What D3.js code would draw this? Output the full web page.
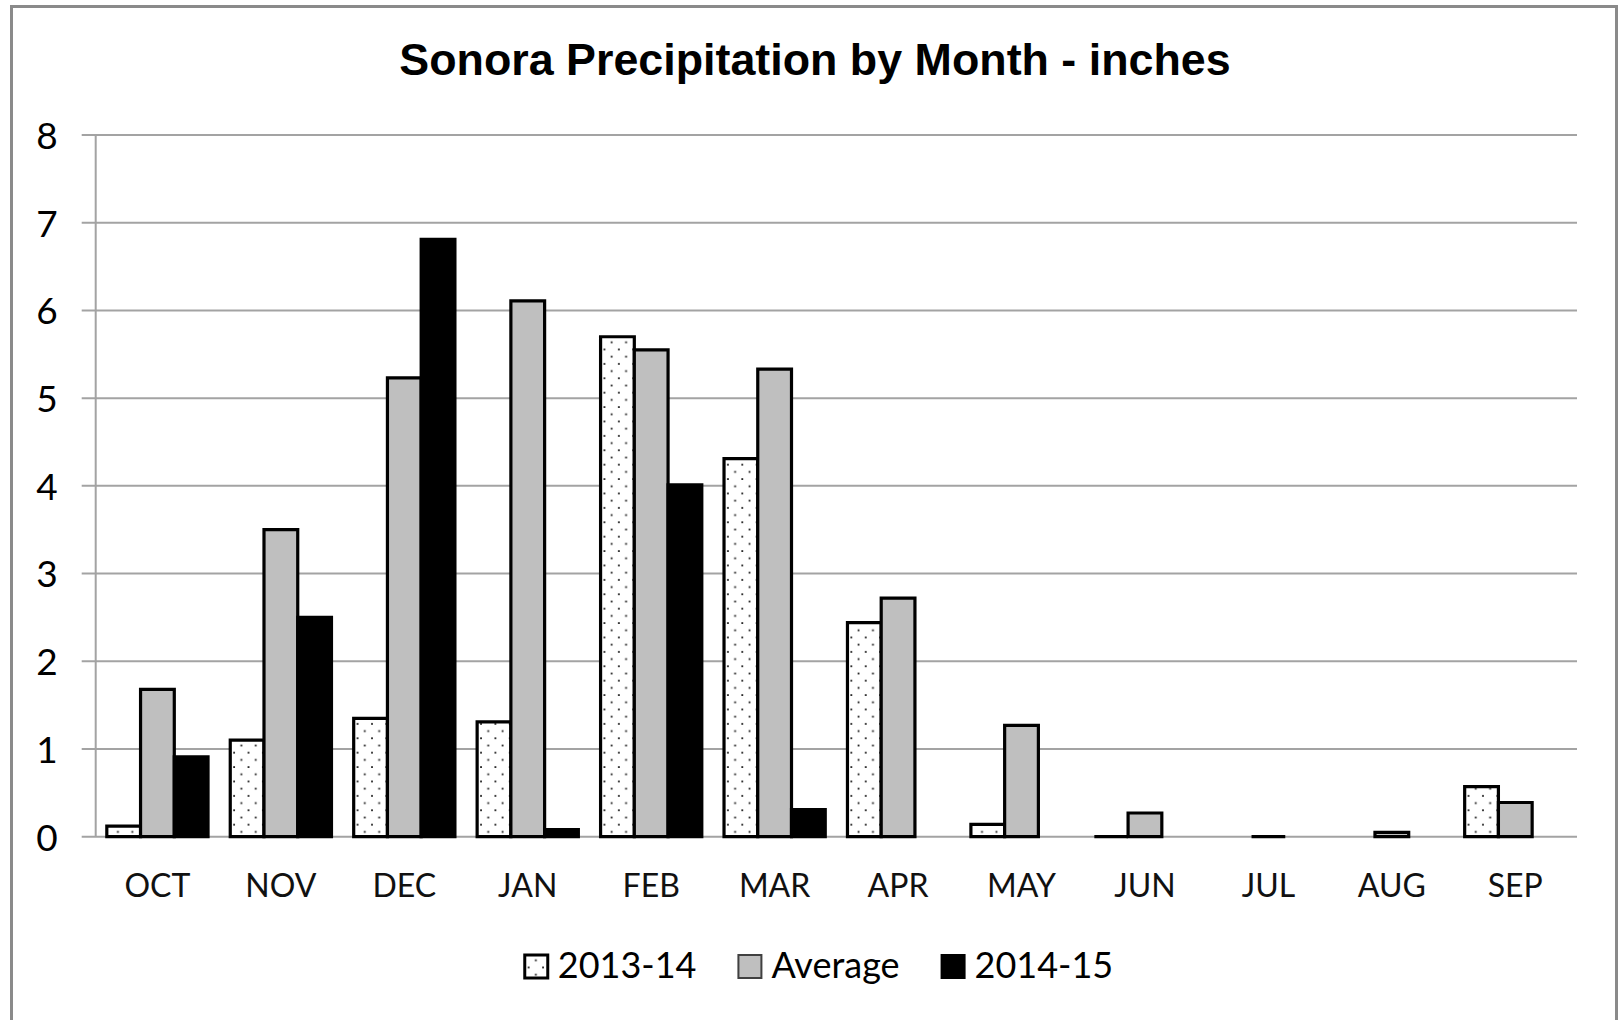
<!DOCTYPE html>
<html>
<head>
<meta charset="utf-8">
<title>Sonora Precipitation by Month</title>
<style>
    html, body { margin: 0; padding: 0; background: white; }
    svg { display: block; }
    .title { font: bold 44.8px "Liberation Sans", Arial, sans-serif; fill: black; }
    .ylab text { font: 37px Lato, "Open Sans", sans-serif; fill: black; }
    .xlab text { font: 32px Lato, "Open Sans", sans-serif; fill: #111; }
    .legend text { font: 36px Lato, "Open Sans", sans-serif; fill: black; }
</style>
<script src="https://cdn.jsdelivr.net/npm/d3@7"></script>
</head>
<body>
<div id="chart"></div>
<script>
    var months = ['OCT', 'NOV', 'DEC', 'JAN', 'FEB', 'MAR', 'APR', 'MAY', 'JUN', 'JUL', 'AUG', 'SEP'];
    var seriesNames = ['2013-14', 'Average', '2014-15'];
    var season1314 = [0.12, 1.10, 1.35, 1.31, 5.70, 4.31, 2.44, 0.14, 0, null, null, 0.57];
    var average    = [1.68, 3.50, 5.23, 6.11, 5.55, 5.33, 2.72, 1.27, 0.27, 0, 0.05, 0.39];
    var season1415 = [0.91, 2.50, 6.81, 0.08, 4.01, 0.31, null, null, null, null, null, null];
    var yTicks = [0, 1, 2, 3, 4, 5, 6, 7, 8];

    var width = 1623, height = 1020;
    var plotLeft = 95.7, plotRight = 1577, plotTop = 135, plotBottom = 836.7;

    var svg = d3.select('#chart')
            .append('svg')
            .attr('width', width)
            .attr('height', height);

    // dotted fill like the excel 5% pattern
    var pat = svg.append('defs').append('pattern')
            .attr('id', 'dots')
            .attr('patternUnits', 'userSpaceOnUse')
            .attr('width', 14.4)
            .attr('height', 14.4);
    pat.append('rect').attr('width', 14.4).attr('height', 14.4).attr('fill', 'white');
    pat.append('rect').attr('x', 3).attr('y', 3).attr('width', 1.8).attr('height', 1.8).attr('fill', '#222');
    pat.append('rect').attr('x', 10.2).attr('y', 10.2).attr('width', 1.8).attr('height', 1.8).attr('fill', '#222');

    var fills = {'2013-14': 'url(#dots)', 'Average': '#bfbfbf', '2014-15': 'black'};

    // outer frame
    svg.append('rect')
            .attr('x', 11.5)
            .attr('y', 6.5)
            .attr('width', 1605)
            .attr('height', 1100)
            .attr('fill', 'none')
            .attr('stroke', '#8a8a8a')
            .attr('stroke-width', 3);

    svg.append('text')
            .attr('class', 'title')
            .attr('x', 815)
            .attr('y', 75)
            .attr('text-anchor', 'middle')
            .text('Sonora Precipitation by Month - inches');

    var x0 = d3.scaleBand()
            .domain(months)
            .range([plotLeft, plotRight])
            .paddingInner(0.18)
            .paddingOuter(0.09);

    var x1 = d3.scaleBand()
            .domain(seriesNames)
            .range([0, x0.bandwidth()]);

    var y = d3.scaleLinear()
            .domain([0, 8])
            .range([plotBottom, plotTop]);

    // gridlines, with the little tick stubs left of the axis
    svg.append('g').selectAll('line')
            .data(yTicks)
        .enter().append('line')
            .attr('x1', plotLeft - 14)
            .attr('x2', plotRight)
            .attr('y1', function(d) { return y(d); })
            .attr('y2', function(d) { return y(d); })
            .attr('stroke', '#a3a3a3')
            .attr('stroke-width', 2);

    svg.append('line')
            .attr('x1', plotLeft).attr('x2', plotLeft)
            .attr('y1', y(8)).attr('y2', y(0))
            .attr('stroke', '#a3a3a3')
            .attr('stroke-width', 2);

    var yAxis = svg.append('g')
            .attr('class', 'ylab')
            .attr('transform', 'translate(' + (plotLeft - 38) + ',0)')
            .call(d3.axisLeft(y).tickValues(yTicks).tickSize(0).tickPadding(0).tickFormat(d3.format('d')));
    yAxis.select('.domain').remove();
    yAxis.selectAll('text').attr('dy', '0.36em');

    var xAxis = svg.append('g')
            .attr('class', 'xlab')
            .attr('transform', 'translate(0,' + plotBottom + ')')
            .call(d3.axisBottom(x0).tickSize(0).tickPadding(0));
    xAxis.select('.domain').remove();
    xAxis.selectAll('text').attr('dy', 0).attr('y', 60);

    // bars
    var rows = months.map(function(m, i) {
        return {month: m, values: [
            {key: '2013-14', v: season1314[i]},
            {key: 'Average', v: average[i]},
            {key: '2014-15', v: season1415[i]}
        ]};
    });

    function barPath(d) {
        var xa = x1(d.key), xb = xa + x1.bandwidth();
        var p = d3.path();
        p.moveTo(xa, y(0));
        p.lineTo(xa, y(d.v));
        p.lineTo(xb, y(d.v));
        p.lineTo(xb, y(0));
        p.closePath();
        return p.toString();
    }

    svg.append('g').selectAll('g')
            .data(rows)
        .enter().append('g')
            .attr('transform', function(d) { return 'translate(' + x0(d.month) + ',0)'; })
        .selectAll('path')
            .data(function(d) { return d.values.filter(function(e) { return e.v !== null; }); })
        .enter().append('path')
            .attr('d', barPath)
            .attr('fill', function(d) { return fills[d.key]; })
            .attr('stroke', 'black')
            .attr('stroke-width', 3.2)
            .attr('stroke-linejoin', 'miter');

    // legend
    var legend = svg.append('g').attr('class', 'legend');
    var cursor = 0, box = 23;
    seriesNames.forEach(function(name, i) {
        var item = legend.append('g').attr('transform', 'translate(' + cursor + ',0)');
        item.append('rect')
                .attr('x', 0)
                .attr('y', -box)
                .attr('width', box)
                .attr('height', box)
                .attr('fill', fills[name])
                .attr('stroke', i === 1 ? '#404040' : 'black')
                .attr('stroke-width', i === 0 ? 3 : 2);
        var t = item.append('text')
                .attr('x', box + 10)
                .attr('y', 0)
                .text(name);
        cursor += box + 10 + t.node().getComputedTextLength() + 42;
    });
    var legendW = cursor - 42;
    legend.attr('transform', 'translate(' + (819 - legendW / 2) + ',978)');
</script>
</body>
</html>
